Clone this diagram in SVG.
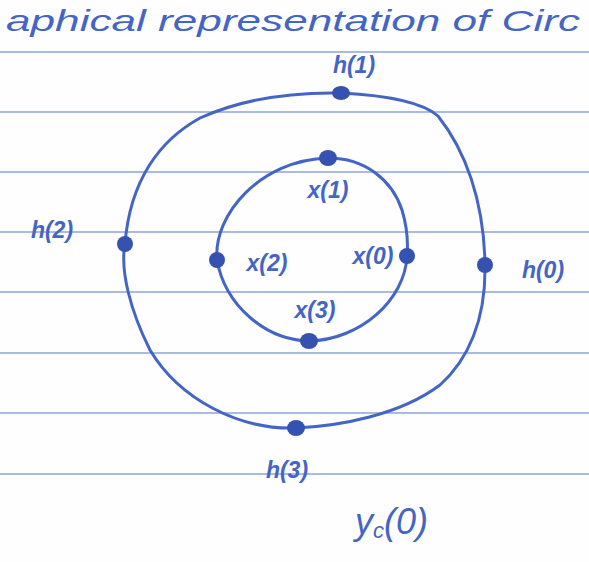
<svg xmlns="http://www.w3.org/2000/svg" width="589" height="562" viewBox="0 0 589 562">
<style>
.rule{stroke:#8ea3d9;stroke-width:1.6;fill:none}
.ink{stroke:#4465c4;stroke-width:3;fill:none;stroke-linecap:round;stroke-linejoin:round}
.dot{fill:#3552b0}
.lbl{font-family:"Liberation Sans","DejaVu Sans",sans-serif;font-style:italic;font-weight:bold;fill:#4465c4;font-size:23px}
.title{font-family:"Liberation Sans","DejaVu Sans",sans-serif;font-style:italic;fill:#4465c4;font-size:30px}
</style>
<rect width="589" height="562" fill="#fefefe"/>
<g id="paper">
<line class="rule" x1="0" y1="52" x2="589" y2="52"/>
<line class="rule" x1="0" y1="112" x2="589" y2="112"/>
<line class="rule" x1="0" y1="172" x2="589" y2="172"/>
<line class="rule" x1="0" y1="232" x2="589" y2="232"/>
<line class="rule" x1="0" y1="292" x2="589" y2="292"/>
<line class="rule" x1="0" y1="353" x2="589" y2="353"/>
<line class="rule" x1="0" y1="413" x2="589" y2="413"/>
<line class="rule" x1="0" y1="474" x2="589" y2="474"/>
</g>
<text class="title" x="6" y="31" textLength="574" lengthAdjust="spacingAndGlyphs">aphical representation of Circ</text>
<g id="connectors">
<path class="ink" d="M341,93 C380,95 420,100 438,116 C465,150 484,200 485,265 C486,320 468,360 440,385 C400,415 340,426 296,428 C240,430 180,400 150,350 C130,310 120,270 125,244 C130,180 160,140 200,118 C240,100 290,92 341,93 Z"/>
<path class="ink" d="M328,158 C365,158 392,180 402,210 C408,230 408,245 407,256 C405,300 360,340 309,341 C265,340 225,305 217,260 C213,215 260,160 328,158 Z"/>
</g>
<g id="h1"><ellipse class="dot" cx="341" cy="93" rx="9" ry="7"/><text class="lbl" x="354" y="73" text-anchor="middle">h(1)</text></g>
<g id="h0"><ellipse class="dot" cx="485" cy="265" rx="8" ry="8"/><text class="lbl" x="543" y="278" text-anchor="middle">h(0)</text></g>
<g id="h2"><ellipse class="dot" cx="125" cy="244" rx="8" ry="8"/><text class="lbl" x="52" y="238" text-anchor="middle">h(2)</text></g>
<g id="h3"><ellipse class="dot" cx="296" cy="428" rx="9" ry="8"/><text class="lbl" x="287" y="478" text-anchor="middle">h(3)</text></g>
<g id="x1"><ellipse class="dot" cx="328" cy="158" rx="9" ry="8"/><text class="lbl" x="328" y="198" text-anchor="middle">x(1)</text></g>
<g id="x0"><ellipse class="dot" cx="407" cy="256" rx="8" ry="8"/><text class="lbl" x="373" y="264" text-anchor="middle">x(0)</text></g>
<g id="x2"><ellipse class="dot" cx="217" cy="260" rx="8" ry="8"/><text class="lbl" x="267" y="271" text-anchor="middle">x(2)</text></g>
<g id="x3"><ellipse class="dot" cx="309" cy="341" rx="9" ry="8"/><text class="lbl" x="315" y="318" text-anchor="middle">x(3)</text></g>
<g id="yc0"><text class="lbl" x="355" y="534" style="font-size:36px;font-weight:normal">y<tspan style="font-size:22px" dy="4">c</tspan><tspan dy="-4">(0)</tspan></text></g>
</svg>
